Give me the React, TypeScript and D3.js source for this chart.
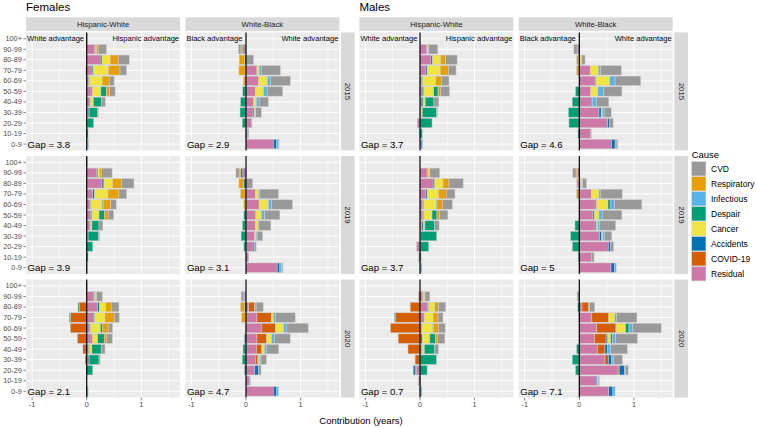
import React from "react";
import * as d3 from "d3";

// ---------- categories ----------
const ages = ["100+", "90-99", "80-89", "70-79", "60-69", "50-59", "40-49", "30-39", "20-29", "10-19", "0-9"];
const legendCauses = ["CVD", "Respiratory", "Infectious", "Despair", "Cancer", "Accidents", "COVID-19", "Residual"];
const legendColors = ["#999999", "#E69F00", "#56B4E9", "#009E73", "#F0E442", "#0072B2", "#D55E00", "#CC79A7"];
// stacking order from zero outwards (values in each row follow this order)
const stackCauses = ["Residual", "COVID-19", "Accidents", "Cancer", "Despair", "Infectious", "Respiratory", "CVD"];
const sexes = ["Females", "Males"];
const comparisons = ["Hispanic-White", "White-Black"];
const years = ["2015", "2019", "2020"];
const xTicks = [-1, 0, 1];
const xMinor = [-0.5, 0.5, 1.5];
const leftAdvantage = ["White advantage", "Black advantage"];
const rightAdvantage = ["Hispanic advantage", "White advantage"];
const femaleGaps = [[3.8, 2.9], [3.9, 3.1], [2.1, 4.7]];
const maleGaps = [[3.7, 4.6], [3.7, 5], [0.7, 7.1]];

// ---------- values: rows = ages (100+ ... 0-9), cols = stackCauses ----------
// Females, Hispanic-White
const femHW2015 = [
  [0, 0, 0, 0, 0, 0, 0, 0.01],
  [0.15, 0, 0.015, 0.015, 0, 0, 0.03, 0.15],
  [0.25, 0, 0.03, 0.15, 0, 0, 0.15, 0.2],
  [0.1, 0, 0.02, 0.28, -0.015, 0, 0.21, 0.12],
  [0.04, 0, 0.012, 0.23, 0, 0, 0.13, 0.09],
  [0.08, 0, 0.02, 0.16, 0.1, 0, 0.06, 0.1],
  [0.05, 0, 0.02, 0.05, 0.15, 0, 0, 0.07],
  [0.025, 0, 0.02, 0, 0.15, 0, 0, 0.02],
  [0.005, 0, 0, 0, 0.12, 0, 0, 0],
  [0, 0, 0, 0, 0.025, 0, 0, 0],
  [0.015, 0, 0.01, 0, 0, 0.01, 0, 0],
];
const femHW2019 = [
  [0, 0, 0, 0, 0, 0, 0, 0.015],
  [0.18, 0, 0.025, 0.03, 0, 0, 0.03, 0.2],
  [0.28, 0, 0.035, 0.16, 0, 0, 0.16, 0.23],
  [0.11, 0, 0.03, 0.25, 0, 0, 0.2, 0.14],
  [0.05, 0, 0.025, 0.21, 0.025, 0, 0.13, 0.1],
  [0.07, 0, 0.025, 0.13, 0.1, 0, 0.07, 0.1],
  [0.05, 0, 0.02, 0.025, 0.13, 0, 0, 0.07],
  [0.025, 0, 0, 0, 0.19, 0, 0, 0.02],
  [0, 0, 0, 0, 0.11, 0, 0, 0],
  [0, 0, 0, 0, 0.025, 0, 0, 0],
  [0.005, 0, 0.005, 0, 0, 0, 0, 0],
];
const femHW2020 = [
  [0, 0, 0, 0, 0, 0, 0, 0.01],
  [0.12, 0, 0.02, 0.025, 0, 0, 0.02, 0.1],
  [0.2, -0.14, 0.03, 0.12, -0.02, 0, 0.1, 0.14],
  [0.12, -0.3, 0.025, 0.19, -0.02, 0, 0.17, 0.09],
  [0.05, -0.3, 0.02, 0.18, 0.035, 0, 0.11, 0.08],
  [0.08, -0.17, 0.02, 0.1, 0.12, 0, 0.05, 0.1],
  [0.035, -0.07, 0.02, 0.04, 0.17, 0, 0, 0.07],
  [0.025, -0.03, 0.02, 0, 0.18, 0, 0, 0.02],
  [0, 0, 0, 0, 0.11, 0, 0, 0],
  [0, 0, 0, 0, 0, 0, 0, 0],
  [0.01, 0, 0.015, 0, 0, 0, 0, 0],
];
// Females, White-Black
const femWB2015 = [
  [0, 0, 0, 0, 0, 0, 0, 0],
  [-0.04, 0, -0.025, 0, 0, 0, -0.03, -0.045],
  [0, 0, 0, 0, -0.025, 0, -0.1, 0.14],
  [0.2, 0, 0, 0.04, -0.01, 0.04, -0.12, 0.35],
  [0.23, 0, 0, 0.16, 0, 0.06, -0.05, 0.36],
  [0.17, 0, 0, 0.15, -0.06, 0.07, 0, 0.28],
  [0.14, 0, 0, 0.05, -0.1, 0.05, 0, 0.17],
  [0.13, 0, 0.02, 0.03, -0.11, 0, 0, 0.1],
  [0.1, 0, 0, 0, -0.07, 0, 0, 0.01],
  [0.035, 0, 0.01, 0, -0.01, 0, 0, 0],
  [0.5, 0, 0.06, 0, 0, 0.035, 0, 0.01],
];
const femWB2019 = [
  [0, 0, 0, 0, 0, 0, 0, 0],
  [-0.06, 0, -0.035, 0, 0, 0, -0.03, -0.06],
  [0, 0, -0.04, 0, 0, 0, -0.09, 0.12],
  [0.17, 0, 0, 0.06, 0, 0.025, -0.1, 0.34],
  [0.24, 0, 0, 0.17, 0, 0.06, -0.04, 0.38],
  [0.18, 0, 0, 0.1, -0.04, 0.06, 0, 0.28],
  [0.17, 0, 0, 0.05, -0.065, 0.015, 0, 0.22],
  [0.16, 0, 0, 0.025, -0.09, 0.02, 0, 0.1],
  [0.13, 0, 0.025, 0, -0.04, 0, 0, 0.03],
  [0.05, 0, 0, 0, -0.005, 0, 0, 0],
  [0.57, 0, 0.05, 0, 0, 0.035, 0, 0.02],
];
const femWB2020 = [
  [0, 0, 0, 0, 0, 0, 0, 0],
  [-0.03, 0, -0.02, 0, 0, 0, 0, -0.04],
  [0.05, 0.11, -0.03, 0, 0, 0.025, -0.07, 0.13],
  [0.2, 0.27, 0, 0.03, 0, 0.04, -0.08, 0.36],
  [0.28, 0.26, 0, 0.15, 0, 0.05, -0.01, 0.4],
  [0.2, 0.18, 0, 0.09, -0.03, 0.05, 0, 0.29],
  [0.19, 0.1, 0, 0.05, -0.055, 0.04, 0, 0.22],
  [0.17, 0.04, 0.02, 0.025, -0.07, 0.02, 0, 0.1],
  [0.16, 0, 0.065, 0, -0.03, 0, 0, 0.05],
  [0.06, 0, 0, 0, 0, 0.02, 0, 0],
  [0.5, 0, 0.06, 0, 0, 0.035, 0, 0],
];
// Males, Hispanic-White
const malHW2015 = [
  [0, 0, 0, 0, 0, 0, 0, 0],
  [0.12, 0, 0.01, 0.025, 0, 0, 0, 0.17],
  [0.2, 0, 0.03, 0.15, 0, 0, 0.09, 0.21],
  [0.1, 0, 0.03, 0.24, 0, 0, 0.15, 0.14],
  [0.025, 0, 0.025, 0.24, 0, 0, 0.1, 0.14],
  [0.04, 0, 0.03, 0.18, 0.08, -0.01, 0.05, 0.16],
  [0.02, 0, 0.035, 0.04, 0.16, 0, 0, 0.09],
  [0.02, 0, 0, 0.02, 0.26, 0, 0, 0.02],
  [-0.05, 0, 0, 0, 0.22, 0, 0, 0],
  [-0.015, 0, 0, 0, 0.04, 0, 0, 0],
  [0.02, 0, 0.02, 0, 0, 0.01, 0, 0],
];
const malHW2019 = [
  [0, 0, 0, 0, 0, 0, 0, 0],
  [0.13, 0, 0.015, 0.035, 0, 0, 0, 0.18],
  [0.24, 0, 0.03, 0.15, 0, 0, 0.11, 0.26],
  [0.1, 0, 0.03, 0.21, 0, 0, 0.14, 0.16],
  [0.05, 0, 0.02, 0.23, 0.012, 0, 0.1, 0.18],
  [0.05, 0, 0.02, 0.15, 0.09, 0, 0.05, 0.15],
  [0.035, 0, 0.025, 0.03, 0.18, 0, 0, 0.08],
  [0.005, 0, 0, 0, 0.3, 0, 0, 0],
  [-0.06, 0, 0, 0, 0.16, 0, 0, 0],
  [-0.025, 0, 0, 0, 0.02, 0, 0, 0],
  [0.01, 0, 0.02, 0, 0, 0, 0, 0],
];
const malHW2020 = [
  [0, 0, 0, 0, 0, 0, 0, 0],
  [0.05, -0.025, 0.01, 0.03, 0, 0, 0, 0.09],
  [0.14, -0.18, 0.02, 0.11, 0, 0, 0.07, 0.13],
  [0.06, -0.45, 0.02, 0.16, -0.02, 0, 0.09, 0.09],
  [0.02, -0.54, 0.015, 0.2, 0.015, 0, 0.09, 0.12],
  [0.01, -0.4, 0.03, 0.14, 0.1, 0, 0.035, 0.14],
  [0.025, -0.22, 0.015, 0.04, 0.19, 0, 0, 0.07],
  [0, -0.09, 0, 0, 0.3, 0, 0, 0.01],
  [-0.07, -0.02, -0.035, 0, 0.13, 0, 0, 0],
  [-0.03, 0, 0, 0, 0.01, 0, 0, 0],
  [0.005, 0, 0.025, 0, 0, 0, 0, 0],
];
// Males, White-Black
const malWB2015 = [
  [0, 0, 0, 0, 0, 0, 0, 0],
  [-0.03, 0, -0.01, 0, 0, 0, 0, -0.06],
  [0.01, 0, -0.02, 0.035, 0, 0, -0.03, 0.06],
  [0.2, 0, 0, 0.15, 0, 0.04, -0.05, 0.38],
  [0.29, 0, 0.015, 0.25, 0, 0.1, 0, 0.47],
  [0.21, 0, 0, 0.13, -0.07, 0.1, 0, 0.34],
  [0.22, 0, 0.02, 0, -0.13, 0.07, 0, 0.23],
  [0.36, 0, 0.04, 0.02, -0.2, 0.035, 0, 0.13],
  [0.52, 0, 0.03, 0, -0.19, 0, 0, 0.07],
  [0.2, 0, 0, 0, -0.025, 0, 0, 0.02],
  [0.59, 0, 0.065, 0, 0, 0.02, 0, 0.03],
];
const malWB2019 = [
  [0, 0, 0, 0, 0, 0, 0, 0],
  [-0.04, 0, 0, 0, 0, 0, -0.02, -0.06],
  [0.025, 0, -0.02, 0.035, 0, 0, -0.025, 0.07],
  [0.22, 0, 0, 0.14, 0, 0.025, -0.05, 0.4],
  [0.29, 0, 0.025, 0.21, 0.04, 0.08, 0, 0.5],
  [0.25, 0, 0.025, 0.085, 0, 0.06, 0, 0.36],
  [0.29, 0, 0.025, 0.025, -0.08, 0.025, 0, 0.3],
  [0.37, 0, 0.04, 0.02, -0.16, 0.035, 0, 0.13],
  [0.53, 0, 0.04, 0, -0.13, 0, 0, 0.06],
  [0.23, 0, 0, 0, -0.02, 0, 0, 0.04],
  [0.58, 0, 0.06, 0, 0, 0.035, 0, 0],
];
const malWB2020 = [
  [0, 0, 0, 0, 0, 0, 0, 0],
  [0, 0, 0, 0, 0, 0, 0, -0.04],
  [0.05, 0.12, 0, 0, -0.03, 0.02, 0, 0.09],
  [0.23, 0.31, 0, 0.11, 0, 0.035, -0.01, 0.37],
  [0.32, 0.34, 0.02, 0.17, 0.06, 0.07, 0, 0.52],
  [0.28, 0.21, 0.03, 0.055, 0.035, 0.055, 0, 0.4],
  [0.33, 0.14, 0.05, 0, -0.05, 0.05, 0, 0.31],
  [0.47, 0.06, 0.06, 0, -0.13, 0.04, 0, 0.16],
  [0.71, 0.02, 0.1, 0, -0.07, 0.015, 0, 0.05],
  [0.31, 0, 0.02, 0.015, -0.005, 0, 0, 0.02],
  [0.54, 0, 0.075, 0, 0, 0.04, 0, 0],
];

// table built from the arrays: [sex][comparison][year]
const panelTable = [
  [[femHW2015, femHW2019, femHW2020], [femWB2015, femWB2019, femWB2020]],
  [[malHW2015, malHW2019, malHW2020], [malWB2015, malWB2019, malWB2020]],
];
const gapTable = [femaleGaps, maleGaps];

const FONT = "'Liberation Sans', Arial, Helvetica, sans-serif";

export default function App() {
  const W = 757, H = 428;
  const groupLeft = [26.1, 359.4];
  const panelW = 154;
  const panelGapX = 5.3;
  const rowTops = [32.4, 156, 279.6];
  const panelH = 118;
  const xDomain: [number, number] = [-1.11, 1.71];
  const colorOf = d3.scaleOrdinal<string, string>().domain(legendCauses).range(legendColors);

  const elems: React.ReactNode[] = [];

  sexes.forEach((sex, s) => {
    const gl = groupLeft[s];
    elems.push(
      <text key={`title-${s}`} x={gl} y={10.5} fontSize={11.5} fill="#000">{sex}</text>
    );
    comparisons.forEach((comp, c) => {
      const x0 = gl + c * (panelW + panelGapX);
      const xs = d3.scaleLinear().domain(xDomain).range([x0, x0 + panelW]);
      elems.push(
        <g key={`strip-${s}-${c}`}>
          <rect x={x0} y={17.3} width={panelW} height={13.6} fill="#D9D9D9" />
          <text x={x0 + panelW / 2} y={24.1} fontSize={7.8} fill="#1A1A1A" textAnchor="middle" dominantBaseline="central">{comp}</text>
        </g>
      );
      years.forEach((yr, r) => {
        const top = rowTops[r];
        const ys = d3.scalePoint<string>().domain(ages).range([top, top + panelH]).padding(0.6);
        const bh = ys.step() * 0.9;
        const rows = panelTable[s][c][r];
        const k = `${s}-${c}-${r}`;
        const parts: React.ReactNode[] = [];
        parts.push(<rect key="bg" x={x0} y={top} width={panelW} height={panelH} fill="#EBEBEB" />);
        xMinor.forEach((v) => parts.push(
          <line key={`mn${v}`} x1={xs(v)} x2={xs(v)} y1={top} y2={top + panelH} stroke="#fff" strokeWidth={0.5} />
        ));
        xTicks.forEach((v) => parts.push(
          <line key={`mj${v}`} x1={xs(v)} x2={xs(v)} y1={top} y2={top + panelH} stroke="#fff" strokeWidth={1} />
        ));
        ages.forEach((a) => parts.push(
          <line key={`h${a}`} x1={x0} x2={x0 + panelW} y1={ys(a)} y2={ys(a)} stroke="#fff" strokeWidth={1} />
        ));
        ages.forEach((a, i) => {
          let pos = 0, neg = 0;
          const row = rows[i];
          stackCauses.forEach((cause, j) => {
            const v = row[j];
            if (!v) return;
            let xa: number, xb: number;
            if (v > 0) { xa = xs(pos); xb = xs(pos + v); pos += v; }
            else { xa = xs(neg + v); xb = xs(neg); neg += v; }
            parts.push(
              <rect key={`b${i}-${j}`} x={xa} y={(ys(a) as number) - bh / 2} width={Math.max(0, xb - xa)} height={bh}
                fill={colorOf(cause)} stroke="#D0D0D0" strokeWidth={0.5} />
            );
          });
        });
        parts.push(<line key="zero" x1={xs(0)} x2={xs(0)} y1={top} y2={top + panelH} stroke="#000" strokeWidth={1.2} />);
        if (r === 0) {
          parts.push(
            <text key="advL" x={x0 + 1} y={ys("100+") as number} fontSize={7.6} fill="#000" dominantBaseline="central">{leftAdvantage[c]}</text>
          );
          parts.push(
            <text key="advR" x={x0 + panelW - 1} y={ys("100+") as number} fontSize={7.6} fill="#000" textAnchor="end" dominantBaseline="central">{rightAdvantage[c]}</text>
          );
        }
        parts.push(
          <text key="gap" x={x0 + 1.5} y={ys("0-9") as number} fontSize={9.6} fill="#000" dominantBaseline="central">{`Gap = ${gapTable[s][r][c]}`}</text>
        );
        if (s === 0 && c === 0) {
          ages.forEach((a) => {
            parts.push(<line key={`yt${a}`} x1={x0 - 2.7} x2={x0} y1={ys(a)} y2={ys(a)} stroke="#333" strokeWidth={0.6} />);
            parts.push(
              <text key={`yl${a}`} x={x0 - 4.2} y={ys(a) as number} fontSize={7.3} fill="#4D4D4D" textAnchor="end" dominantBaseline="central">{a}</text>
            );
          });
        }
        if (r === 2) {
          xTicks.forEach((v) => {
            parts.push(<line key={`xt${v}`} x1={xs(v)} x2={xs(v)} y1={top + panelH} y2={top + panelH + 2.7} stroke="#333" strokeWidth={0.6} />);
            parts.push(
              <text key={`xl${v}`} x={xs(v)} y={top + panelH + 7.2} fontSize={7.3} fill="#4D4D4D" textAnchor="middle" dominantBaseline="central">{String(v)}</text>
            );
          });
        }
        elems.push(<g key={`p-${k}`}>{parts}</g>);
        if (c === 1) {
          const sx = x0 + panelW + 1.6;
          elems.push(
            <g key={`ys-${k}`}>
              <rect x={sx} y={top} width={13.6} height={panelH} fill="#D9D9D9" />
              <text x={sx + 6.8} y={top + panelH / 2} fontSize={7.8} fill="#1A1A1A" textAnchor="middle" dominantBaseline="central"
                transform={`rotate(90 ${sx + 6.8} ${top + panelH / 2})`}>{yr}</text>
            </g>
          );
        }
      });
    });
  });

  elems.push(
    <text key="xtitle" x={361} y={420.5} fontSize={9.5} fill="#000" textAnchor="middle" dominantBaseline="central">Contribution (years)</text>
  );

  const lx = 691.7, ly0 = 161.7, step = 15;
  elems.push(
    <g key="legend">
      <text x={lx} y={154} fontSize={9.5} fill="#000" dominantBaseline="central">Cause</text>
      {legendCauses.map((cause, i) => (
        <g key={cause}>
          <rect x={lx} y={ly0 + i * step} width={14.2} height={14.2} fill={colorOf(cause)} stroke="#D0D0D0" strokeWidth={0.5} />
          <text x={lx + 19.3} y={ly0 + i * step + 7.1} fontSize={8.5} fill="#000" dominantBaseline="central">{cause}</text>
        </g>
      ))}
    </g>
  );

  return (
    <svg width={W} height={H} viewBox={`0 0 ${W} ${H}`} fontFamily={FONT}
      style={{ position: "absolute", left: 0, top: 0, background: "#fff" }}>
      <rect x={0} y={0} width={W} height={H} fill="#fff" />
      {elems}
    </svg>
  );
}
